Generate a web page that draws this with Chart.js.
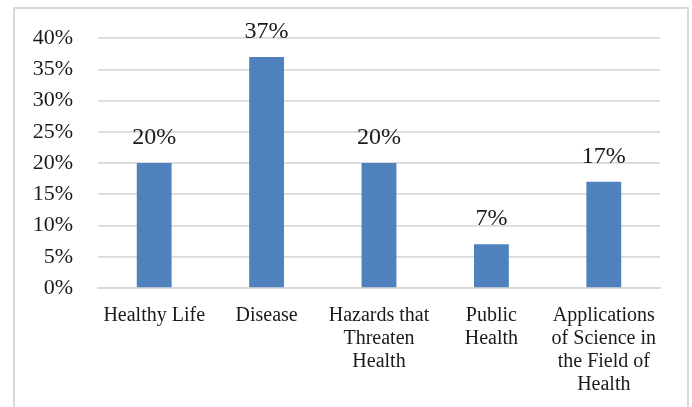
<!DOCTYPE html>
<html lang="en">
<head>
    <meta charset="UTF-8">
    <title>Health topics</title>
    <script src="https://cdn.jsdelivr.net/npm/chart.js"></script>
    <style>
        body { margin: 0; background: #fff; }
        .janela { position: relative; width: 692px; height: 407px; overflow: hidden; }
        .moldura { position: absolute; left: 13px; top: 7px; width: 676px; height: 420px; border: 2px solid #d9d9d9; box-sizing: border-box; }
        #grafico { position: absolute; left: 0; top: 0; }
    </style>
</head>
<body>
<div class="janela">
    <div class="moldura"></div>
    <canvas id="grafico" width="692" height="407"></canvas>
</div>
<script>
    // dados
    const categorias = [
        ['Healthy Life'],
        ['Disease'],
        ['Hazards that', 'Threaten', 'Health'],
        ['Public', 'Health'],
        ['Applications', 'of Science in', 'the Field of', 'Health']
    ];
    const percentuais = [20, 37, 20, 7, 17];
    const ticksY = [0, 5, 10, 15, 20, 25, 30, 35, 40];

    const fonte = "'Liberation Serif', 'Times New Roman', serif";

    // escreve o valor acima de cada barra
    const rotulosBarras = {
        id: 'rotulosBarras',
        afterDatasetsDraw(chart) {
            const ctx = chart.ctx;
            const meta = chart.getDatasetMeta(0);
            ctx.save();
            ctx.font = '24px ' + fonte;
            ctx.fillStyle = '#1a1a1a';
            ctx.textAlign = 'center';
            ctx.textBaseline = 'alphabetic';
            meta.data.forEach(function (barra, i) {
                ctx.fillText(percentuais[i] + '%', barra.x, barra.y - 19);
            });
            ctx.restore();
        }
    };

    new Chart(document.getElementById('grafico'), {
        type: 'bar',
        data: {
            labels: categorias,
            datasets: [{
                data: percentuais,
                backgroundColor: '#4f81bd',
                barPercentage: 0.62,
                categoryPercentage: 0.5
            }]
        },
        options: {
            responsive: false,
            animation: false,
            layout: { padding: { top: 35, right: 32, left: 0, bottom: 0 } },
            plugins: { legend: { display: false }, tooltip: { enabled: false } },
            scales: {
                y: {
                    min: 0,
                    max: 40,
                    afterFit: function (s) { s.width = 98; },
                    afterBuildTicks: function (s) { s.ticks = ticksY.map(function (v) { return { value: v }; }); },
                    border: { display: false },
                    grid: { color: '#d9d9d9', lineWidth: 1.7, drawTicks: false },
                    ticks: {
                        padding: 25,
                        color: '#1a1a1a',
                        font: { family: fonte, size: 22 },
                        callback: function (v) { return v + '%'; }
                    }
                },
                x: {
                    afterFit: function (s) { s.height = 407 - 288; },
                    border: { display: true, color: '#d9d9d9', width: 1.7 },
                    grid: { display: false },
                    ticks: {
                        padding: 8,
                        maxRotation: 0,
                        autoSkip: false,
                        color: '#1a1a1a',
                        font: { family: fonte, size: 20, lineHeight: 1.15 }
                    }
                }
            }
        },
        plugins: [rotulosBarras]
    });
</script>
</body>
</html>
